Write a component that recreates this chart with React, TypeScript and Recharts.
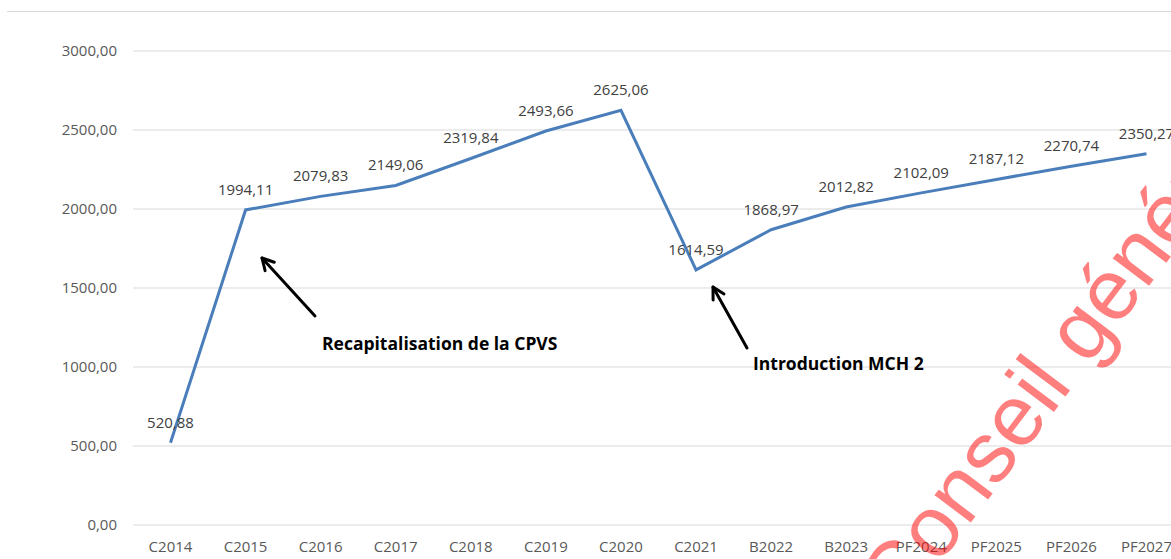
import { LineChart, Line, XAxis, YAxis, CartesianGrid, LabelList } from 'recharts';

const categories = [
  'C2014', 'C2015', 'C2016', 'C2017', 'C2018', 'C2019', 'C2020',
  'C2021', 'B2022', 'B2023', 'PF2024', 'PF2025', 'PF2026', 'PF2027',
];
const values = [
  520.88, 1994.11, 2079.83, 2149.06, 2319.84, 2493.66, 2625.06,
  1614.59, 1868.97, 2012.82, 2102.09, 2187.12, 2270.74, 2350.27,
];
const yTicks = [0, 500, 1000, 1500, 2000, 2500, 3000];

const data = categories.map((c, i) => ({ name: c, value: values[i] }));

// format 1994.11 -> "1994,11"
const fr = (v: number) => v.toFixed(2).replace('.', ',');

const font = '"Open Sans", "Liberation Sans", sans-serif';

const Arrow = ({ x1, y1, x2, y2 }: { x1: number; y1: number; x2: number; y2: number }) => {
  const ang = Math.atan2(y2 - y1, x2 - x1);
  const len = 13;
  const spread = 0.5;
  const a1 = ang + Math.PI - spread;
  const a2 = ang + Math.PI + spread;
  return (
    <g stroke="#000" strokeWidth={3} fill="none" strokeLinecap="round" strokeLinejoin="round">
      <line x1={x1} y1={y1} x2={x2} y2={y2} />
      <polyline
        points={`${x2 + len * Math.cos(a1)},${y2 + len * Math.sin(a1)} ${x2},${y2} ${x2 + len * Math.cos(a2)},${y2 + len * Math.sin(a2)}`}
      />
    </g>
  );
};

export default function App() {
  return (
    <div style={{ position: 'absolute', left: 0, top: 0, width: 1171, height: 559, overflow: 'hidden', background: '#fff' }}>
      {/* cadre du graphique */}
      <div style={{ position: 'absolute', left: 7, right: 0, top: 11, height: 1, background: '#d9d9d9' }} />

      <LineChart width={1200} height={559} data={data} margin={{ top: 51, right: 16, bottom: 0, left: 0 }}>
        <CartesianGrid horizontal vertical={false} stroke="#d9d9d9" />
        <XAxis
          dataKey="name"
          height={34}
          padding={{ left: 37.5, right: 37.5 }}
          axisLine={false}
          tickLine={false}
          tickSize={0}
          tickMargin={16}
          interval={0}
          tick={{ fontSize: 15, fill: '#595959', fontFamily: font }}
        />
        <YAxis
          width={133}
          domain={[0, 3000]}
          ticks={yTicks}
          axisLine={false}
          tickLine={false}
          tickSize={0}
          tickMargin={16}
          tickFormatter={fr}
          tick={{ fontSize: 15, fill: '#595959', fontFamily: font }}
        />
        <Line
          dataKey="value"
          stroke="#4a7ebb"
          strokeWidth={3}
          dot={false}
          isAnimationActive={false}
        >
          <LabelList
            dataKey="value"
            position="top"
            offset={15}
            formatter={(v: any) => fr(Number(v))}
            style={{ fontSize: 15, fill: '#404040', fontFamily: font }}
          />
        </Line>
      </LineChart>

      {/* annotations + filigrane */}
      <svg width={1171} height={559} style={{ position: 'absolute', left: 0, top: 0, pointerEvents: 'none' }}>
        <Arrow x1={315} y1={316} x2={262} y2={258} />
        <text x={322} y={350} fontFamily={font} fontWeight="bold" fontSize={17.5} fill="#000">
          Recapitalisation de la CPVS
        </text>
        <Arrow x1={747} y1={348} x2={713} y2={287} />
        <text x={753} y={370} fontFamily={font} fontWeight="bold" fontSize={17.5} fill="#000">
          Introduction MCH 2
        </text>
        <text
          x={901}
          y={615}
          transform="rotate(-53 901 615)"
          fontFamily='"Liberation Sans", sans-serif'
          fontSize={86}
          fill="#ff0000"
          fillOpacity={0.5}
        >
          Conseil général
        </text>
      </svg>
    </div>
  );
}
